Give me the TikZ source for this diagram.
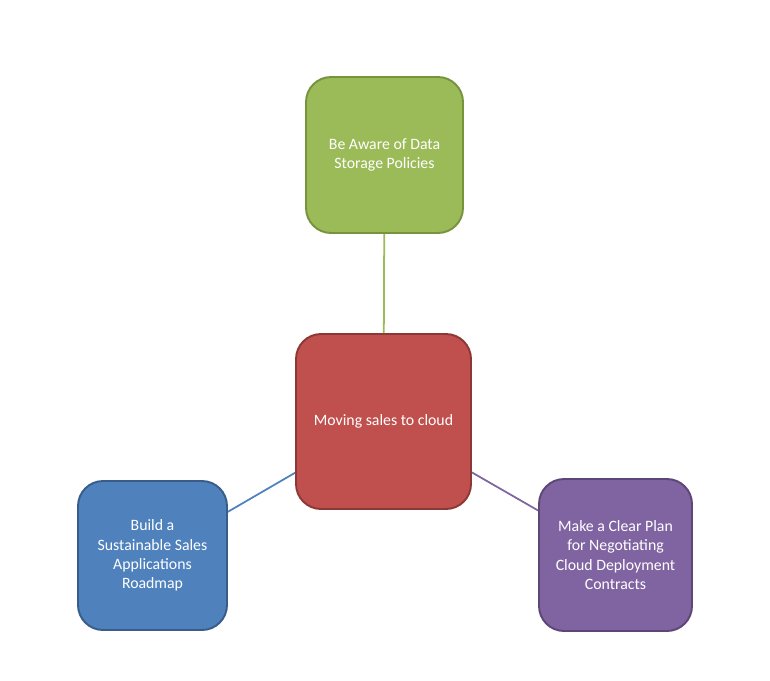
\documentclass[tikz,border=0pt]{standalone}
\usepackage{fontspec}
\setmainfont{Carlito}
\definecolor{greenfill}{HTML}{9BBB59}
\definecolor{greenline}{HTML}{77933C}
\definecolor{redfill}{HTML}{C0504D}
\definecolor{redline}{HTML}{8C3836}
\definecolor{bluefill}{HTML}{4F81BD}
\definecolor{blueline}{HTML}{385D8A}
\definecolor{purplefill}{HTML}{8064A2}
\definecolor{purpleline}{HTML}{5C4776}
\tikzset{
    topic/.style={rectangle, rounded corners=0.5cm, line width=1.1pt, text=white,
        align=center, font=\fontsize{9}{11}\selectfont, inner sep=0pt},
    link/.style={line width=1pt}
}

\begin{document}
\begin{tikzpicture}[x=0.02cm, y=-0.02cm]

        \useasboundingbox (000,000) rectangle (770,680);

        % Moving sales to cloud
        \node [topic, fill=redfill, draw=redline, minimum width=3.50cm, minimum height=3.50cm]
            (cloud) at (383.5,421.5) {Moving sales to cloud};

        % Data Storage
        \node [topic, fill=greenfill, draw=greenline, minimum width=3.14cm, minimum height=3.12cm]
            (storage) at (384.5,155.0) {Be Aware of Data\\Storage Policies};

        % Roadmap
        \node [topic, fill=bluefill, draw=blueline, minimum width=2.98cm, minimum height=2.98cm]
            (roadmap) at (152.5,555.5) {Build a\\Sustainable Sales\\Applications\\Roadmap};

        % Contracts
        \node [topic, fill=purplefill, draw=purpleline, minimum width=3.06cm, minimum height=3.04cm]
            (contracts) at (615.5,555.0) {Make a Clear Plan\\for Negotiating\\Cloud Deployment\\Contracts};

        % Links
        \draw [link, greenfill] (storage) -- (cloud);
        \draw [link, bluefill] (roadmap) -- (cloud);
        \draw [link, purplefill] (cloud) -- (contracts);

    \end{tikzpicture}
\end{document}
